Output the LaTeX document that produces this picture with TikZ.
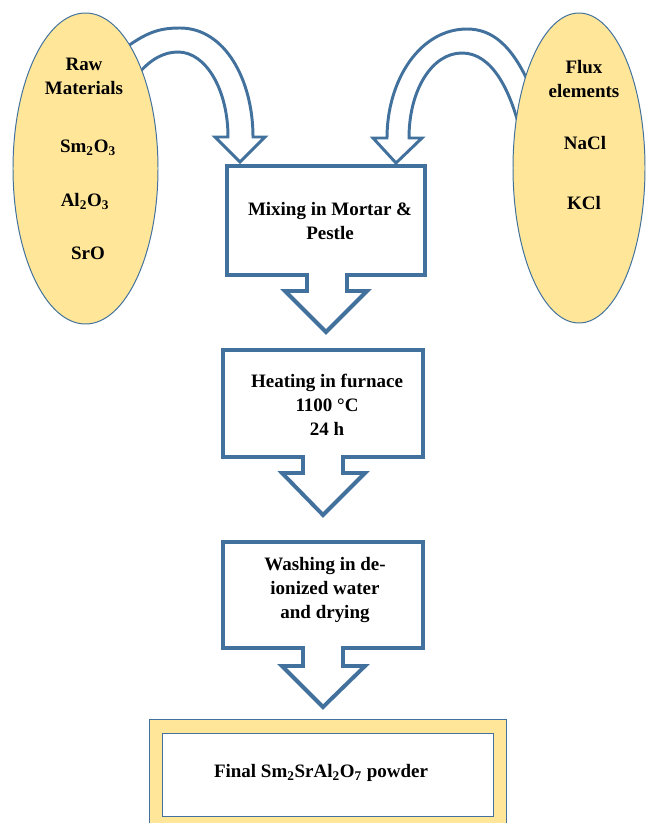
\documentclass[tikz,border=0pt]{standalone}
\usepackage{fontspec}
\setmainfont{Liberation Serif}
\usepackage{xcolor}
\definecolor{flowblue}{HTML}{41719C}
\definecolor{flowyellow}{HTML}{FFE699}

\begin{document}
\begin{tikzpicture}[x=0.025cm,y=-0.025cm,
  callout/.style={draw=flowblue,line width=2.8pt,fill=white},
  bentarrow/.style={draw=flowblue,line width=2.1pt,fill=white},
  source/.style={draw=flowblue,line width=0.7pt,fill=flowyellow},
  label/.style={font=\fontsize{13.5}{17}\selectfont\bfseries,align=center,inner sep=0pt}]
\clip (0,0) rectangle (646,823);

% Curved arrows into the mixing step
\draw[bentarrow] (128,46) .. controls (148,32) and (160,28) .. (180,28)
  .. controls (225,28) and (253,80) .. (253,137) -- (265,137) -- (240,162)
  -- (215,137) -- (228,137) .. controls (228,90) and (206,52) .. (178,52)
  .. controls (163,52) and (150,60) .. (138,74);
\draw[bentarrow] (530,86) .. controls (512,45) and (492,29) .. (467,29)
  .. controls (420,29) and (387,80) .. (387,138) -- (373,138) -- (396,163)
  -- (422,138) -- (409,138) .. controls (409,90) and (432,53) .. (462,53)
  .. controls (492,53) and (510,90) .. (520,130);

% Raw materials
\draw[source] (85.5,168.5) ellipse [x radius=72.5,y radius=155.5];
\node[label] (raw) at (84,76) {Raw\\Materials};
\node[label] (smo) at (88,148) {Sm\textsubscript{2}O\textsubscript{3}};
\node[label] (alo) at (85,201) {Al\textsubscript{2}O\textsubscript{3}};
\node[label] (sro) at (88,253) {SrO};

% Flux elements
\draw[source] (579,168) ellipse [x radius=66,y radius=155];
\node[label] (flux) at (584,79) {Flux\\elements};
\node[label] (nacl) at (585,143) {NaCl};
\node[label] (kcl) at (584,203) {KCl};

% Mixing
\draw[callout] (227,166) -- (425,166) -- (425,275) -- (347,275) -- (347,291)
  -- (367,291) -- (326,332) -- (285,291) -- (307,291) -- (307,275)
  -- (227,275) -- cycle;
\node[label] (mix) at (330,221) {Mixing in Mortar \&\\Pestle};

% Heating
\draw[callout] (223,350) -- (423,350) -- (423,457) -- (343,457) -- (343,473)
  -- (365,473) -- (323,515) -- (282,473) -- (303,473) -- (303,457)
  -- (223,457) -- cycle;
\node[label] (heat) at (327,405) {Heating in furnace\\1100 °C\\24 h};

% Washing
\draw[callout] (223,542) -- (423,542) -- (423,648) -- (343,648) -- (343,666)
  -- (365,666) -- (323,707) -- (282,666) -- (303,666) -- (303,648)
  -- (223,648) -- cycle;
\node[label] (wash) at (325,590) {Washing in de-\\ionized water\\and drying};

% Final product
\draw[source] (149,719) rectangle (506,840);
\draw[draw=flowblue,line width=0.7pt,fill=white] (162,733) rectangle (493,816);
\node[label] (final) at (321,773) {Final Sm\textsubscript{2}SrAl\textsubscript{2}O\textsubscript{7} powder};
\end{tikzpicture}
\end{document}
